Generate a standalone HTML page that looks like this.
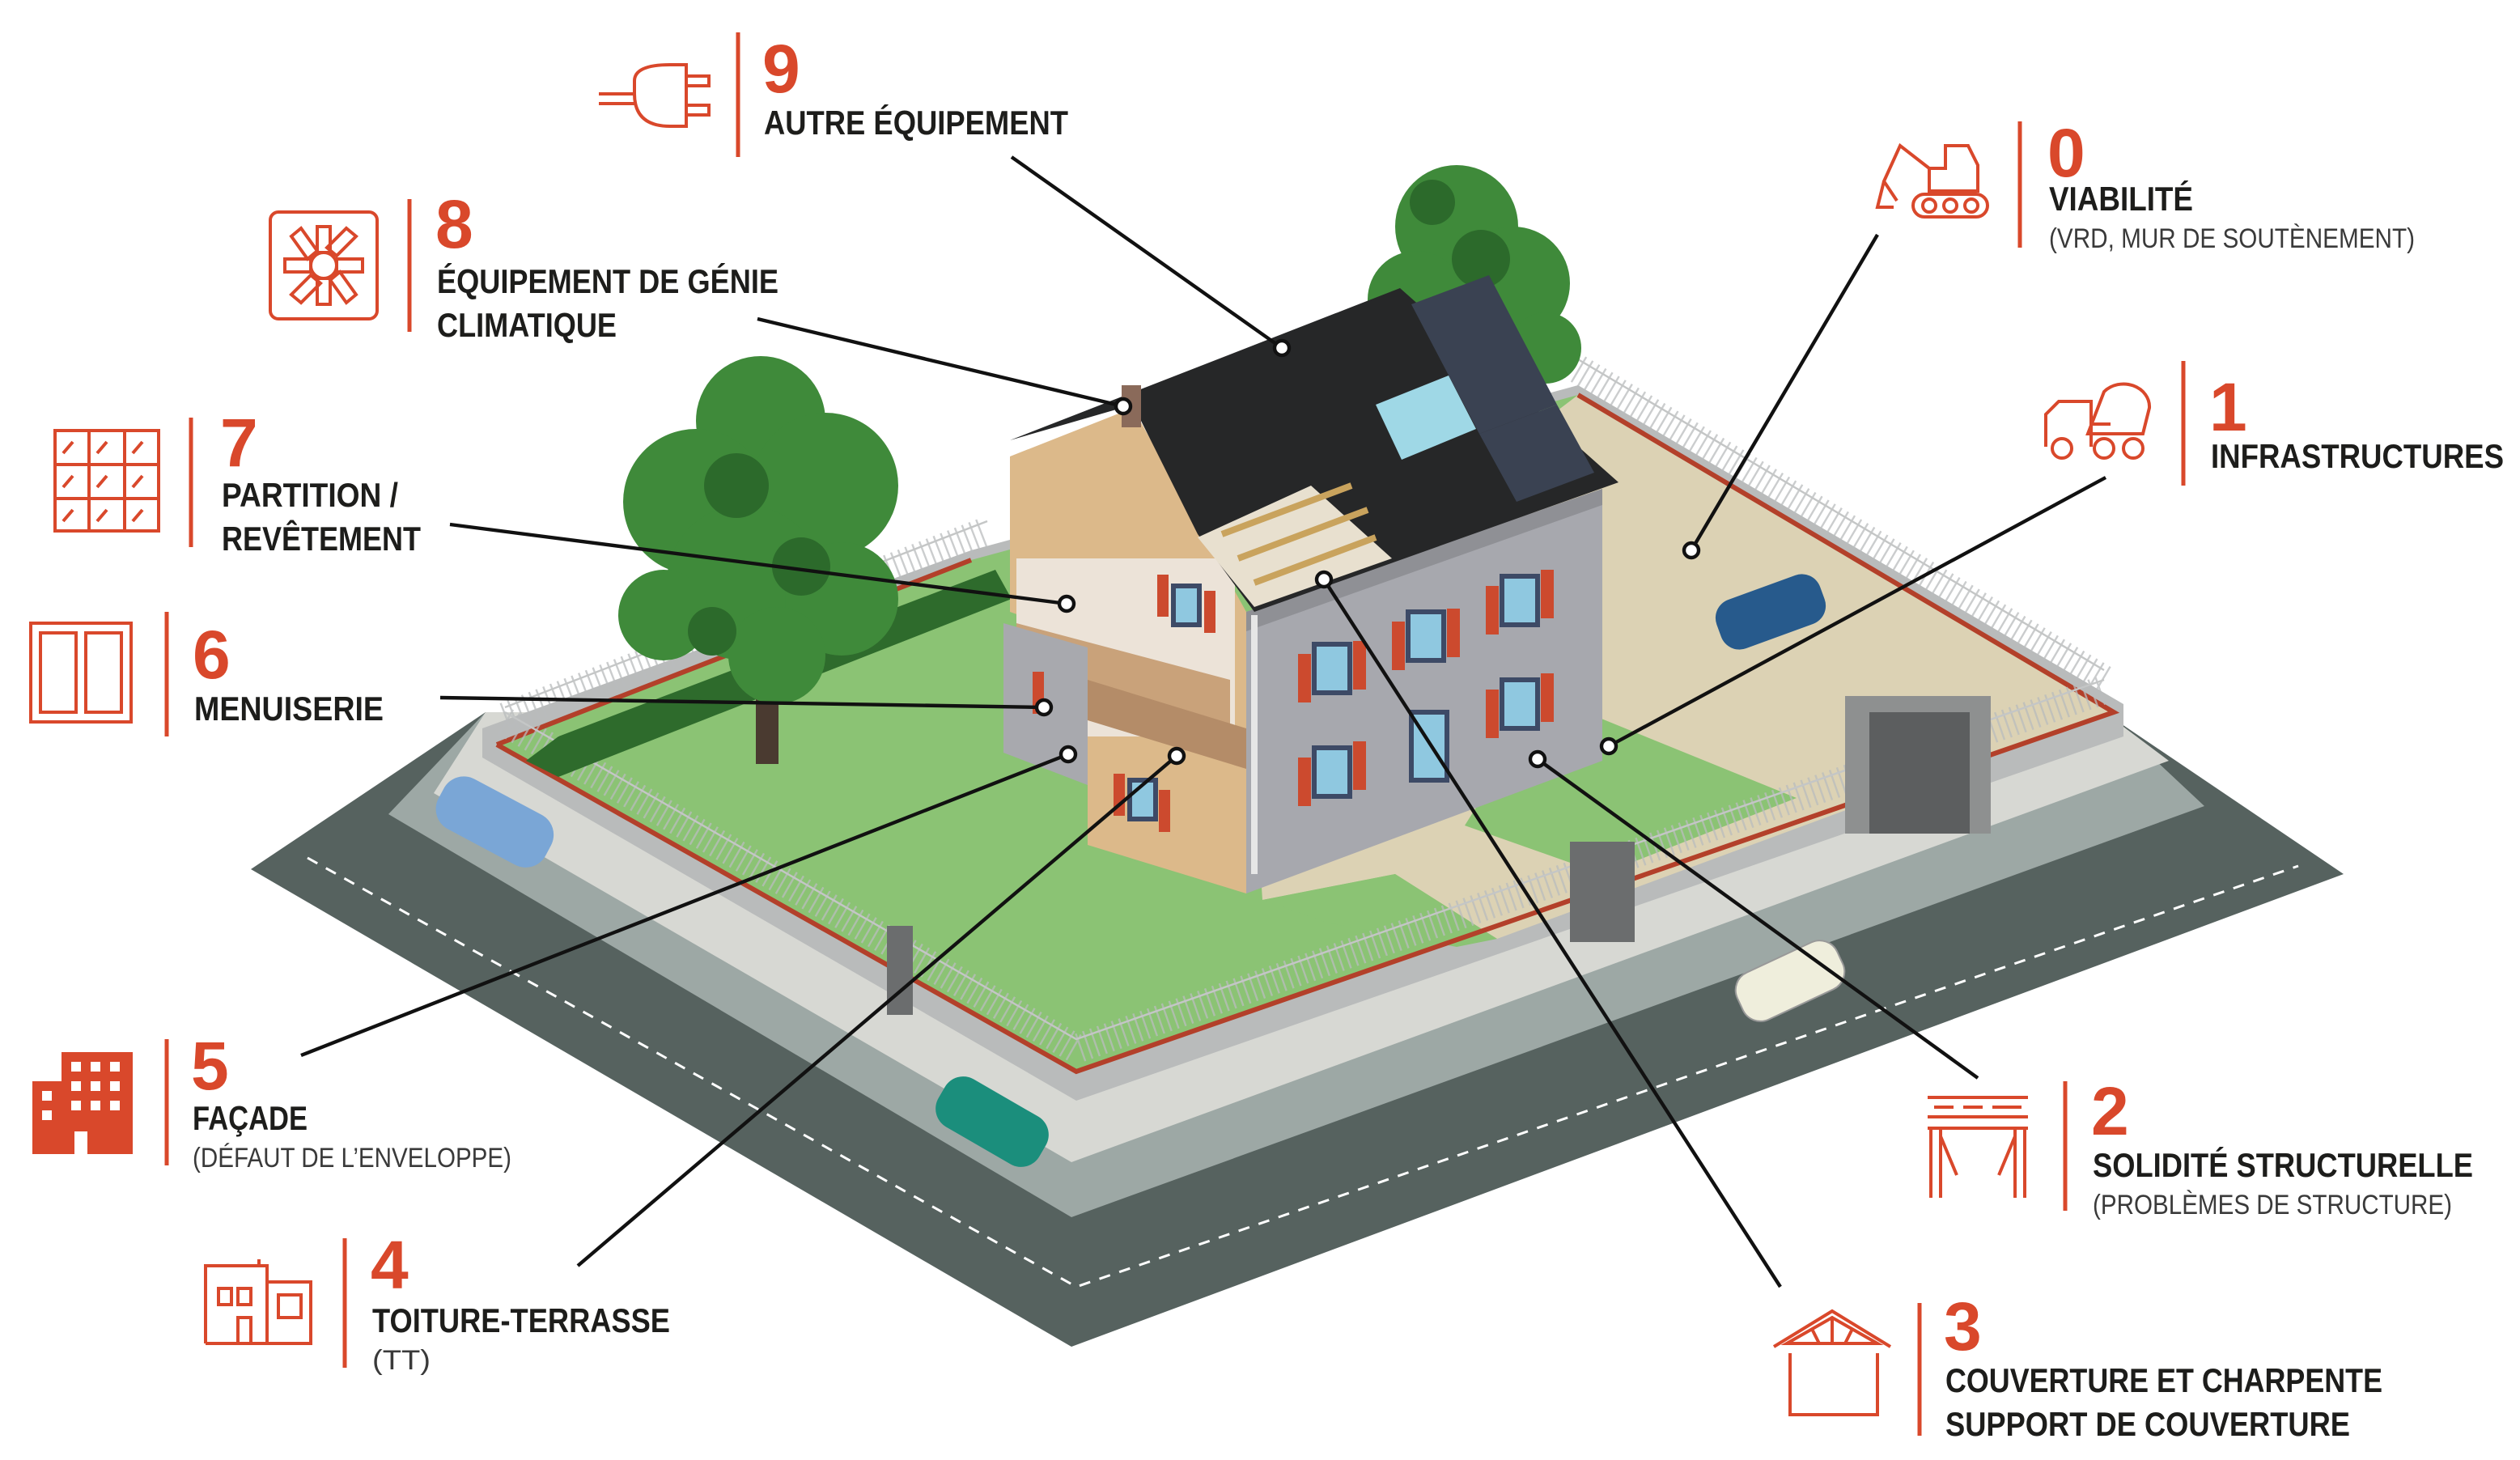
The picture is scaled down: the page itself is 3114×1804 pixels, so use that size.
<!DOCTYPE html>
<html><head><meta charset="utf-8"><style>
html,body{margin:0;padding:0;background:#fff;}
svg{display:block;}
.t{font-family:"Liberation Sans Narrow","Liberation Sans",sans-serif;font-weight:bold;font-size:21px;fill:#1d1d1b;}
.s{font-family:"Liberation Sans Narrow","Liberation Sans",sans-serif;font-size:17px;fill:#3a3a3a;}
.n{font-family:"Liberation Sans Narrow","Liberation Sans",sans-serif;font-weight:bold;font-size:42px;fill:#d9482b;}
.ic{fill:none;stroke:#d9482b;stroke-width:2;}
.vl{stroke:#d9482b;stroke-width:2.5;}
.cn{stroke:#111;stroke-width:2.2;fill:none;}
.dot{fill:#fff;stroke:#111;stroke-width:2.2;}
</style></head><body>
<svg width="3114" height="1804" viewBox="0 0 1557 902" xmlns="http://www.w3.org/2000/svg">
<rect width="1557" height="902" fill="#fff"/>
<!-- ground -->
<polygon points="155,537 662,832 1448,540 1300,440 300,440" fill="#56625f"/>
<polyline points="190,530 665,795 1420,535" fill="none" stroke="#fff" stroke-width="1.5" stroke-dasharray="7,6"/>
<polygon points="240,503 662,752 1362,498 1300,440 300,440" fill="#9da8a5"/>
<polygon points="268,490 662,718 1340,470 1300,440 300,440" fill="#d7d8d3"/>
<polygon points="298,468 665,680 1312,455 1312,435 975,238 600,340 298,450" fill="#b9bbbb"/>
<polygon points="307,460 665,662 1306,440 975,244 600,346" fill="#8bc374"/>
<polygon points="975,244 1306,440 1150,497 925,580 862,540 780,556 770,400" fill="#dcd2b4"/>
<polygon points="955,430 1110,493 990,540 905,510" fill="#8bc374"/>
<polygon points="780,556 862,540 925,580 900,585 820,570" fill="#8bc374"/>
<polyline points="307,460 665,662 1306,440 975,244" fill="none" stroke="#b3402a" stroke-width="3"/>
<polyline points="307,460 600,346" fill="none" stroke="#b3402a" stroke-width="3"/>
<!-- fences -->
<g stroke="#b9bcbd" stroke-width="18" fill="none" opacity="0.75" stroke-dasharray="1.2,3.5">
<polyline points="312,446 665,648 1300,426"/>
<polyline points="975,228 1300,420"/>
<polyline points="312,443 610,328"/>
</g>
<g stroke="#c4c6c6" stroke-width="1.2" fill="none">
<polyline points="312,440 665,642 1300,420"/>
<polyline points="975,222 1300,414"/>
<polyline points="312,437 610,322"/>
</g>
<!-- hedge -->
<polygon points="325,470 345,455 615,352 625,370 345,480" fill="#2e6b2c"/>
<!-- gates -->
<rect x="1140" y="430" width="90" height="85" fill="#8e9090"/>
<rect x="1155" y="440" width="62" height="75" fill="#5c5e5f"/>
<rect x="970" y="520" width="40" height="62" fill="#6b6d6e"/>
<rect x="548" y="572" width="16" height="55" fill="#6b6d6e"/>
<!-- right tree -->
<g fill="#3f8a3a">
<circle cx="900" cy="140" r="38"/><circle cx="935" cy="175" r="35"/><circle cx="875" cy="185" r="30"/><circle cx="955" cy="215" r="22"/>
</g>
<g fill="#2c6a2b"><circle cx="915" cy="160" r="18"/><circle cx="885" cy="125" r="14"/></g>
<!-- house -->
<polygon points="624,282 700,252 770,378 770,552 672,522 672,395 624,378" fill="#dcb98a"/>
<rect x="628" y="345" width="135" height="110" fill="#ece3d8"/>
<polygon points="628,385 760,420 760,455 628,420" fill="#c9a27a"/>
<polygon points="620,385 672,400 672,485 620,465" fill="#a8a9ae"/>
<polygon points="672,420 770,450 770,475 672,445" fill="#b48c68"/>
<polygon points="770,378 990,302 990,470 770,552" fill="#a7a8ae"/>
<polygon points="770,378 990,302 990,312 770,390" fill="#8f9095"/>
<line x1="775" y1="380" x2="775" y2="540" stroke="#e6e6e6" stroke-width="4"/>
<polygon points="624,272 865,178 1000,298 775,378 740,330 700,250" fill="#262728"/>
<polygon points="740,332 810,300 860,345 775,375" fill="#e8e0cf"/>
<g stroke="#c9a35d" stroke-width="4"><line x1="755" y1="330" x2="835" y2="300"/><line x1="765" y1="345" x2="845" y2="315"/><line x1="775" y1="360" x2="850" y2="332"/></g>
<rect x="693" y="238" width="12" height="26" fill="#8a6a5a"/>
<polygon points="872,188 920,170 962,250 914,268" fill="#3a4252"/>
<polygon points="914,268 962,250 985,292 937,310" fill="#3a4252"/>
<polygon points="850,250 895,232 912,265 866,284" fill="#9fd8e6"/>
<!-- windows -->
<g fill="#8fc8e0" stroke="#3d4a66" stroke-width="3">
<rect x="812" y="398" width="22" height="30"/><rect x="870" y="378" width="22" height="30"/><rect x="928" y="356" width="22" height="30"/>
<rect x="812" y="462" width="22" height="30"/><rect x="928" y="420" width="22" height="30"/><rect x="872" y="440" width="22" height="42"/>
<rect x="725" y="362" width="16" height="24"/><rect x="698" y="482" width="16" height="24"/>
</g>
<g fill="#cc4a2e">
<rect x="802" y="404" width="8" height="30"/><rect x="836" y="396" width="8" height="30"/>
<rect x="860" y="384" width="8" height="30"/><rect x="894" y="376" width="8" height="30"/>
<rect x="918" y="362" width="8" height="30"/><rect x="952" y="352" width="8" height="30"/>
<rect x="802" y="468" width="8" height="30"/><rect x="836" y="458" width="8" height="30"/>
<rect x="918" y="426" width="8" height="30"/><rect x="952" y="416" width="8" height="30"/>
<rect x="715" y="355" width="7" height="26"/><rect x="744" y="365" width="7" height="26"/>
<rect x="688" y="478" width="7" height="26"/><rect x="716" y="488" width="7" height="26"/>
<rect x="638" y="415" width="7" height="26"/>
</g>
<!-- left tree -->
<rect x="467" y="360" width="14" height="112" fill="#4a3a30"/>
<g fill="#3f8a3a">
<circle cx="470" cy="260" r="40"/><circle cx="430" cy="310" r="45"/><circle cx="510" cy="300" r="45"/><circle cx="460" cy="360" r="48"/><circle cx="520" cy="370" r="35"/><circle cx="410" cy="380" r="28"/><circle cx="480" cy="405" r="30"/>
</g>
<g fill="#2c6a2b"><circle cx="455" cy="300" r="20"/><circle cx="495" cy="350" r="18"/><circle cx="440" cy="390" r="15"/></g>
<!-- cars -->
<g>
<rect x="268" y="490" width="75" height="35" rx="14" fill="#7aa6d6" transform="rotate(28 305 508)"/>
<rect x="1060" y="362" width="68" height="32" rx="12" fill="#275a8c" transform="rotate(-20 1094 378)"/>
<rect x="577" y="676" width="72" height="34" rx="13" fill="#1b8e7c" transform="rotate(30 613 693)"/>
<rect x="1072" y="590" width="68" height="32" rx="12" fill="#efeedc" stroke="#999" transform="rotate(-25 1106 606)"/>
</g>
<!-- connectors -->
<line class="cn" x1="625" y1="97" x2="792" y2="215"/><circle class="dot" cx="792" cy="215" r="4.5"/>
<line class="cn" x1="468" y1="197" x2="694" y2="251"/><circle class="dot" cx="694" cy="251" r="4.5"/>
<line class="cn" x1="278" y1="324" x2="659" y2="373"/><circle class="dot" cx="659" cy="373" r="4.5"/>
<line class="cn" x1="272" y1="431" x2="645" y2="437"/><circle class="dot" cx="645" cy="437" r="4.5"/>
<line class="cn" x1="186" y1="652" x2="660" y2="466"/><circle class="dot" cx="660" cy="466" r="4.5"/>
<line class="cn" x1="357" y1="782" x2="727" y2="467"/><circle class="dot" cx="727" cy="467" r="4.5"/>
<line class="cn" x1="1100" y1="795" x2="818" y2="358"/><circle class="dot" cx="818" cy="358" r="4.5"/>
<line class="cn" x1="1222" y1="666" x2="950" y2="469"/><circle class="dot" cx="950" cy="469" r="4.5"/>
<line class="cn" x1="1301" y1="295" x2="994" y2="461"/><circle class="dot" cx="994" cy="461" r="4.5"/>
<line class="cn" x1="1160" y1="145" x2="1045" y2="340"/><circle class="dot" cx="1045" cy="340" r="4.5"/>
<!-- labels -->
<g class="ic"><path d="M370,58 h22 M370,64 h22 M392,50 q0,-10 22,-10 h10 v38 h-10 q-22,0 -22,-20z M424,47 h14 v6 h-14 M424,65 h14 v6 h-14"/></g>
<line class="vl" x1="456" y1="20" x2="456" y2="97"/>
<text class="n" x="471" y="57">9</text>
<text class="t" x="472" y="83" textLength="188" lengthAdjust="spacingAndGlyphs">AUTRE ÉQUIPEMENT</text>
<g class="ic"><rect x="167" y="131" width="66" height="66" rx="5"/><circle cx="200" cy="164" r="8"/><path d="M196,140 h8 v16 h-8z M196,172 h8 v16 h-8z M176,160 h16 v8 h-16z M208,160 h16 v8 h-16z M180,146 l6,-5 10,14 -6,5z M220,182 l-6,5 -10,-14 6,-5z M214,141 l6,5 -12,12 -6,-5z M186,187 l-6,-5 12,-12 6,5z"/></g>
<line class="vl" x1="253" y1="123" x2="253" y2="205"/>
<text class="n" x="269" y="153">8</text>
<text class="t" x="270" y="181" textLength="211" lengthAdjust="spacingAndGlyphs">ÉQUIPEMENT DE GÉNIE</text>
<text class="t" x="270" y="208" textLength="111" lengthAdjust="spacingAndGlyphs">CLIMATIQUE</text>
<g class="ic"><rect x="34" y="266" width="64" height="62"/><path d="M55,266 v62 M77,266 v62 M34,287 h64 M34,308 h64 M39,280 l6,-7 M60,280 l6,-7 M82,280 l6,-7 M39,301 l6,-7 M60,301 l6,-7 M82,301 l6,-7 M39,322 l6,-7 M60,322 l6,-7 M82,322 l6,-7"/></g>
<line class="vl" x1="118" y1="258" x2="118" y2="338"/>
<text class="n" x="136" y="288">7</text>
<text class="t" x="137" y="313" textLength="109" lengthAdjust="spacingAndGlyphs">PARTITION /</text>
<text class="t" x="137" y="340" textLength="123" lengthAdjust="spacingAndGlyphs">REVÊTEMENT</text>
<g class="ic" stroke-width="3"><rect x="19" y="385" width="62" height="61"/><rect x="25" y="391" width="22" height="49"/><rect x="53" y="391" width="22" height="49"/></g>
<line class="vl" x1="103" y1="378" x2="103" y2="455"/>
<text class="n" x="119" y="419">6</text>
<text class="t" x="120" y="445" textLength="117" lengthAdjust="spacingAndGlyphs">MENUISERIE</text>
<path d="M20,668 h18 v-18 h44 v63 h-28 v-14 h-8 v14 h-26z" fill="#d9482b"/>
<g fill="#fff"><rect x="26" y="674" width="6" height="6"/><rect x="26" y="686" width="6" height="6"/><rect x="44" y="656" width="6" height="6"/><rect x="56" y="656" width="6" height="6"/><rect x="68" y="656" width="6" height="6"/><rect x="44" y="668" width="6" height="6"/><rect x="56" y="668" width="6" height="6"/><rect x="68" y="668" width="6" height="6"/><rect x="44" y="680" width="6" height="6"/><rect x="56" y="680" width="6" height="6"/><rect x="68" y="680" width="6" height="6"/></g>
<line class="vl" x1="103" y1="642" x2="103" y2="720"/>
<text class="n" x="118" y="673">5</text>
<text class="t" x="119" y="698" textLength="71" lengthAdjust="spacingAndGlyphs">FAÇADE</text>
<text class="s" x="119" y="721" textLength="197" lengthAdjust="spacingAndGlyphs">(DÉFAUT DE L’ENVELOPPE)</text>
<g class="ic"><path d="M127,830 v-48 h38 v48 M165,792 h27 v38 h-65 M160,778 v4"/><rect x="135" y="796" width="8" height="10"/><rect x="147" y="796" width="8" height="10"/><rect x="147" y="814" width="8" height="16"/><rect x="172" y="800" width="14" height="14"/></g>
<line class="vl" x1="213" y1="765" x2="213" y2="845"/>
<text class="n" x="229" y="796">4</text>
<text class="t" x="230" y="823" textLength="184" lengthAdjust="spacingAndGlyphs">TOITURE-TERRASSE</text>
<text class="s" x="230" y="846" textLength="36" lengthAdjust="spacingAndGlyphs">(TT)</text>
<g class="ic" stroke-width="2.5"><path d="M1096,832 l36,-22 36,22 M1104,830 l28,-16 28,16 z M1132,814 v16 M1120,822 l4,8 M1144,822 l-4,8 M1106,836 v38 h54 v-38"/></g>
<line class="vl" x1="1186" y1="805" x2="1186" y2="887"/>
<text class="n" x="1201" y="834">3</text>
<text class="t" x="1202" y="860" textLength="270" lengthAdjust="spacingAndGlyphs">COUVERTURE ET CHARPENTE</text>
<text class="t" x="1202" y="887" textLength="250" lengthAdjust="spacingAndGlyphs">SUPPORT DE COUVERTURE</text>
<g class="ic"><path d="M1191,678 h62 M1195,684 h12 M1213,684 h12 M1231,684 h18 M1191,690 h62 M1191,697 h62 M1193,697 v43 M1199,697 v43 M1245,697 v43 M1251,697 v43 M1199,702 l10,24 M1245,702 l-10,24"/></g>
<line class="vl" x1="1276" y1="668" x2="1276" y2="748"/>
<text class="n" x="1292" y="701">2</text>
<text class="t" x="1293" y="727" textLength="235" lengthAdjust="spacingAndGlyphs">SOLIDITÉ STRUCTURELLE</text>
<text class="s" x="1293" y="750" textLength="222" lengthAdjust="spacingAndGlyphs">(PROBLÈMES DE STRUCTURE)</text>
<g class="ic"><path d="M1264,276 v-20 l8,-8 h20 v28 M1292,262 h12 M1290,268 l10,-26 a16,14 0 0 1 28,10 l-4,16 z"/><circle cx="1274" cy="277" r="6"/><circle cx="1300" cy="277" r="6"/><circle cx="1318" cy="277" r="6"/></g>
<line class="vl" x1="1349" y1="223" x2="1349" y2="300"/>
<text class="n" x="1365" y="266">1</text>
<text class="t" x="1366" y="289" textLength="181" lengthAdjust="spacingAndGlyphs">INFRASTRUCTURES</text>
<g class="ic"><rect x="1182" y="120" width="46" height="14" rx="7"/><circle cx="1192" cy="127" r="4"/><circle cx="1205" cy="127" r="4"/><circle cx="1218" cy="127" r="4"/><path d="M1192,118 v-14 h10 v-14 h14 l6,12 v16 z M1192,104 l-18,-14 -10,22 l8,12 M1164,112 l-4,16 h10"/></g>
<line class="vl" x1="1248" y1="75" x2="1248" y2="153"/>
<text class="n" x="1265" y="109">0</text>
<text class="t" x="1266" y="130" textLength="89" lengthAdjust="spacingAndGlyphs">VIABILITÉ</text>
<text class="s" x="1266" y="153" textLength="226" lengthAdjust="spacingAndGlyphs">(VRD, MUR DE SOUTÈNEMENT)</text>
</svg>
</body></html>
